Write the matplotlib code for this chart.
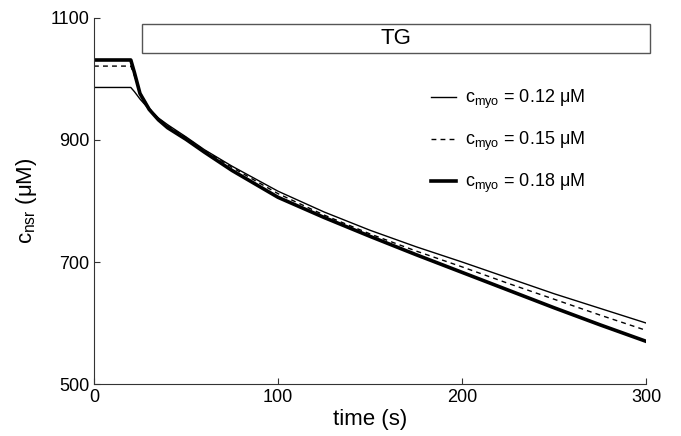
import matplotlib.pyplot as plt
from matplotlib.patches import Rectangle

plt.rcParams['font.family'] = ['Liberation Sans', 'DejaVu Sans']
plt.rcParams['mathtext.default'] = 'regular'

# time (s)
t = [0, 20, 22, 25, 30, 35, 40, 50, 60, 75, 100, 125, 150, 175, 200, 225, 250, 275, 300]
# c_nsr (uM) for the three c_myo values
c012 = [986, 986, 979, 967, 950, 936, 925, 905, 884, 857, 816, 782, 752, 725, 700, 674, 648, 624, 600]
c015 = [1021, 1021, 1005, 978, 952, 935, 923, 904, 883, 855, 812, 777, 746, 718, 692, 665, 639, 613, 588]
c018 = [1031, 1031, 1010, 976, 950, 933, 920, 901, 880, 850, 806, 773, 742, 712, 683, 654, 625, 597, 570]
labels = ['c$_{myo}$ = 0.12 μM', 'c$_{myo}$ = 0.15 μM', 'c$_{myo}$ = 0.18 μM']

fig = plt.figure(figsize=(6.81, 4.36), dpi=100)
ax = fig.add_axes([0.138, 0.119, 0.811, 0.840])

ax.plot(t, c012, color='black', lw=1.0, label=labels[0])
ax.plot(t, c015, color='black', lw=1.0, ls=(0, (3.5, 3)), label=labels[1])
ax.plot(t, c018, color='black', lw=2.6, label=labels[2])

# TG bar
ax.add_patch(Rectangle((26, 1043), 276, 47, fill=False, edgecolor='#555555', lw=1.0, clip_on=False))
ax.text(164, 1066, 'TG', ha='center', va='center', fontsize=16)

ax.set_xlim(0, 300)
ax.set_ylim(500, 1100)
ax.set_xticks([0, 100, 200, 300])
ax.set_yticks([500, 700, 900, 1100])
ax.tick_params(direction='in', length=4, labelsize=13, color='#333333')
for s in ['top', 'right']:
    ax.spines[s].set_visible(False)
for s in ['left', 'bottom']:
    ax.spines[s].set_color('#333333')
ax.set_xlabel('time (s)', fontsize=16, labelpad=2)
ax.set_ylabel('c$_{nsr}$ (μM)', fontsize=16, labelpad=8)

ax.legend(loc='upper left', bbox_to_anchor=(0.58, 0.853), frameon=False, fontsize=13,
          handlelength=1.4, handletextpad=0.5, labelspacing=1.05)

fig.savefig('out.png', dpi=100)
